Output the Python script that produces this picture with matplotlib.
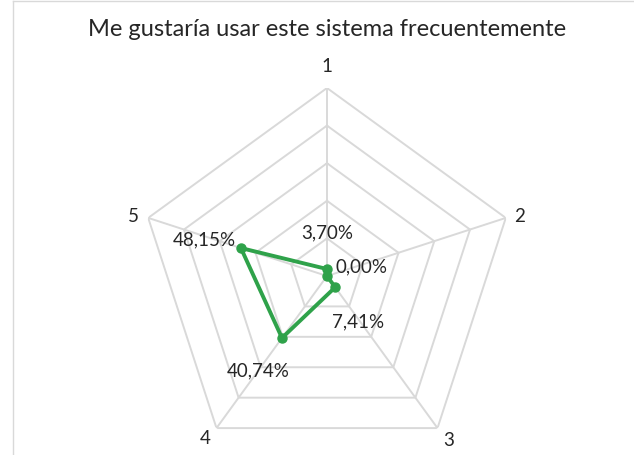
import numpy as np
import matplotlib
matplotlib.use("Agg")
import matplotlib.pyplot as plt
from matplotlib.patches import Rectangle

title = "Me gustaría usar este sistema frecuentemente"
categories = ["1", "2", "3", "4", "5"]
values = [0.0370, 0.0000, 0.0741, 0.4074, 0.4815]
value_labels = ["3,70%", "0,00%", "7,41%", "40,74%", "48,15%"]
rings = [0.2, 0.4, 0.6, 0.8, 1.0]

W, H = 634, 456
fig = plt.figure(figsize=(W / 100, H / 100), dpi=100)
plt.rcParams['font.family'] = ['Lato', 'DejaVu Sans']

# chart area border (left + top visible)
fig.add_artist(plt.Line2D([12.5 / W, 12.5 / W], [0, 1 - 1.5 / H], transform=fig.transFigure,
                          color="#d9d9d9", lw=1.0))
fig.add_artist(plt.Line2D([12.5 / W, 1], [1 - 1.5 / H, 1 - 1.5 / H], transform=fig.transFigure,
                          color="#d9d9d9", lw=1.0))

cx, cy, R = 327, 277, 188
ax = fig.add_axes([(cx - R) / W, (H - cy - R) / H, 2 * R / W, 2 * R / H], projection="polar")
ax.set_theta_offset(np.pi / 2)
ax.set_theta_direction(-1)
ax.set_ylim(0, 1)
ax.set_axis_off()

n = len(categories)
theta = np.arange(n) * 2 * np.pi / n
theta_c = np.append(theta, theta[0])

grid_color = "#d9d9d9"
for r in rings:
    ax.plot(theta_c, [r] * (n + 1), color=grid_color, lw=1.4, zorder=1)
for t in theta:
    ax.plot([t, t], [0, 1], color=grid_color, lw=1.4, zorder=1)

vals_c = np.append(values, values[0])
green = "#2fa24a"
ax.plot(theta_c, vals_c, color=green, lw=2.8, zorder=3, solid_joinstyle="round")
ax.plot(theta, values, "o", color=green, ms=6.5, zorder=4)

# data labels (offsets in pixels from point)
offsets = [(0, 37), (35, 10), (23, -34), (-24, -32), (-37, 9)]
for t, v, lab, (dx, dy) in zip(theta, values, value_labels, offsets):
    ax.annotate(lab, (t, v), xytext=(dx * 0.72, dy * 0.72), textcoords="offset points",
                ha="center", va="center", fontsize=13.5, color="#262626", zorder=5)

# category labels
cat_off = [(0, 23), (14, 2), (11, -11), (-11, -9), (-15, 2)]
for t, c, (dx, dy) in zip(theta, categories, cat_off):
    ax.annotate(c, (t, 1.0), xytext=(dx * 0.72, dy * 0.72), textcoords="offset points",
                ha="center", va="center", fontsize=13.5, color="#262626", annotation_clip=False)

fig.text(327 / W, 1 - 30 / H, title, ha="center", va="center", fontsize=17, color="#262626")

fig.savefig("out.png", dpi=100)
